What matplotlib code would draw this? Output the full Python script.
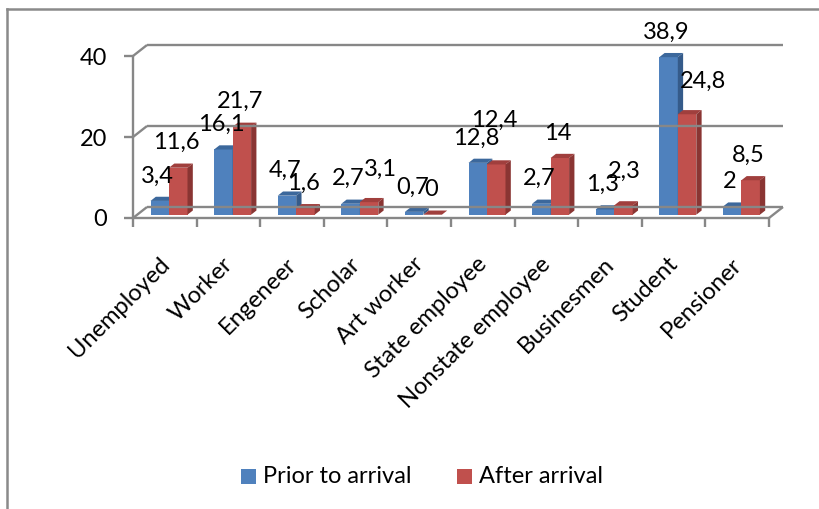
import matplotlib
matplotlib.use("Agg")
import matplotlib.pyplot as plt
from matplotlib.patches import Polygon, Rectangle
from matplotlib.lines import Line2D

# ---- data -------------------------------------------------------------
categories = ["Unemployed", "Worker", "Engeneer", "Scholar", "Art worker",
              "State employee", "Nonstate employee", "Businesmen", "Student",
              "Pensioner"]
prior_to_arrival = [3.4, 16.1, 4.7, 2.7, 0.7, 12.8, 2.7, 1.3, 38.9, 2.0]
after_arrival = [11.6, 21.7, 1.6, 3.1, 0.0, 12.4, 14.0, 2.3, 24.8, 8.5]
series_names = ["Prior to arrival", "After arrival"]
y_ticks = [0, 20, 40]

# ---- style ------------------------------------------------------------
W, H, DPI = 819, 510, 100
FONT = "Lato"
FS = 17
GRID = "#878787"
GRID_LW = 1.7
FACE = [("#4f81bd", "#3c689c", "#355b8a"),   # front, top, side
        ("#c0504d", "#a03f3d", "#8a3533")]

PX_X = 63.6          # pixels per category
PX_Y = 4.05          # pixels per value unit
AX_LEFT, AX_BOTTOM = 133, 219     # pixel position of the front-left origin
AX_W, AX_H = 680, 200
DX, DY = 14 / PX_X, 11 / PX_Y     # depth of the floor in data units
F0, F1 = 0.30, 0.68               # bar depth span as fraction of floor depth
BW = 18.5 / PX_X                  # single bar width

# per-label nudges (pixels, right / up) for labels that were moved aside
label_nudge = {(1, 3): (13, 8), (1, 5): (0, 19), (1, 7): (3, 9), (1, 8): (18, 8)}

plt.rcParams["font.family"] = [FONT, "DejaVu Sans"]

fig = plt.figure(figsize=(W / DPI, H / DPI), dpi=DPI)
ax = fig.add_axes([AX_LEFT / W, (H - AX_BOTTOM) / H, AX_W / W, AX_H / H])
ax.set_xlim(-0.5, -0.5 + AX_W / PX_X)
ax.set_ylim(0, AX_H / PX_Y)
ax.axis("off")

# outer chart frame (runs past the right and bottom edges)
fig.add_artist(Line2D([7 / W, 7 / W], [0, 1 - 10 / H], transform=fig.transFigure,
                      color="#8a8a8a", lw=1.8))
fig.add_artist(Line2D([7 / W, 1], [1 - 10 / H, 1 - 10 / H], transform=fig.transFigure,
                      color="#8a8a8a", lw=1.8))

n = len(categories)
x_lo, x_hi = -0.5, n - 0.5


def seg(xs, ys, **kw):
    ax.add_line(Line2D(xs, ys, color=GRID, lw=GRID_LW, clip_on=False,
                       solid_capstyle="butt", **kw))


# back wall gridlines and left wall diagonals
for t in y_ticks:
    seg([x_lo + DX, x_hi + DX], [t + DY, t + DY])
    seg([x_lo, x_lo + DX], [t, t + DY])
    seg([x_lo - 9 / PX_X, x_lo], [t, t])
    ax.annotate(f"{t}", xy=(x_lo, t), xytext=(-26, -1), textcoords="offset pixels",
                ha="right", va="center", fontsize=FS, annotation_clip=False)

# floor front edge, right edge and vertical axis
seg([x_lo, x_hi], [0, 0])
seg([x_hi, x_hi + DX], [0, DY])
seg([x_lo, x_lo], [0, y_ticks[-1]])

# category ticks
for k in range(n + 1):
    seg([x_lo + k, x_lo + k], [0, -9 / PX_Y])

# category labels
for i, name in enumerate(categories):
    ax.annotate(name, xy=(i, 0), xytext=(1, -42), textcoords="offset pixels",
                rotation=45, rotation_mode="anchor", ha="right", va="center",
                fontsize=FS, annotation_clip=False)


def fmt(v):
    return f"{v:g}".replace(".", ",")


# 3-D columns
ddx, ddy = (F1 - F0) * DX, (F1 - F0) * DY
for i in range(n):
    for s, values in enumerate([prior_to_arrival, after_arrival]):
        v = values[i]
        front, top_c, side_c = FACE[s]
        x0 = i - BW + s * BW + F0 * DX
        y0 = F0 * DY
        y1 = y0 + v
        ax.add_patch(Rectangle((x0, y0), BW, v, facecolor=front, edgecolor="none",
                               clip_on=False))
        ax.add_patch(Polygon([(x0, y1), (x0 + BW, y1), (x0 + BW + ddx, y1 + ddy),
                              (x0 + ddx, y1 + ddy)], closed=True, facecolor=top_c,
                             edgecolor="none", clip_on=False))
        ax.add_patch(Polygon([(x0 + BW, y0), (x0 + BW, y1), (x0 + BW + ddx, y1 + ddy),
                              (x0 + BW + ddx, y0 + ddy)], closed=True,
                             facecolor=side_c, edgecolor="none", clip_on=False))
        nx, ny = label_nudge.get((s, i), (0, 0))
        ax.annotate(fmt(v), xy=(x0 + BW / 2, y1), xytext=(-2 + nx, 26 + ny),
                    textcoords="offset pixels", ha="center", va="center",
                    fontsize=FS, annotation_clip=False)

# legend
legend_items = [(241, 263), (457, 479)]
for (sq_x, tx_x), name, (front, _, _) in zip(legend_items, series_names, FACE):
    fig.add_artist(Rectangle((sq_x / W, 1 - 485 / H), 15 / W, 15 / H,
                             transform=fig.transFigure, facecolor=front,
                             edgecolor="none"))
    fig.text(tx_x / W, 1 - 477 / H, name, ha="left", va="center", fontsize=FS)

fig.savefig("out.png", dpi=DPI)
